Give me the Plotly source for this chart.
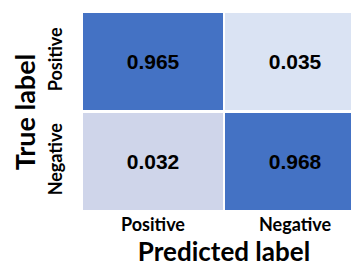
import plotly.graph_objects as go

pred_labels = ["Positive", "Negative"]
true_labels = ["Positive", "Negative"]
values = [[0.965, 0.035],
          [0.032, 0.968]]

colorscale = [[0.0, "#CFD5EA"], [0.0033, "#DAE3F3"], [0.9967, "#4472C4"], [1.0, "#4472C4"]]

fig = go.Figure(go.Heatmap(
    z=values, x=pred_labels, y=true_labels,
    colorscale=colorscale, showscale=False,
    xgap=2, ygap=3,
    texttemplate="%{z:.3f}",
    textfont=dict(family="Liberation Sans, Arial", size=21, color="black", weight="bold"),
    hoverinfo="skip",
))

fig.update_layout(
    width=359, height=270,
    margin=dict(l=74, r=1, t=4, b=66),
    paper_bgcolor="white", plot_bgcolor="white",
    font=dict(family="Lato", color="black"),
)
fig.update_xaxes(
    automargin=False,
    title=dict(text="Predicted label", font=dict(size=26, weight="bold", family="Lato"), standoff=6),
    tickfont=dict(size=18, weight="bold", family="Lato"),
    ticklabelstandoff=0,
    showgrid=False, zeroline=False, ticks="", ticklen=0,
)
fig.update_yaxes(
    automargin=False,
    autorange="reversed",
    title=dict(text="True label", font=dict(size=27, weight="bold", family="Lato"), standoff=10),
    tickfont=dict(size=18, weight="bold", family="Lato"),
    tickangle=-90,
    ticklabelstandoff=15,
    showgrid=False, zeroline=False, ticks="", ticklen=0,
)

fig.write_html("out.html")
